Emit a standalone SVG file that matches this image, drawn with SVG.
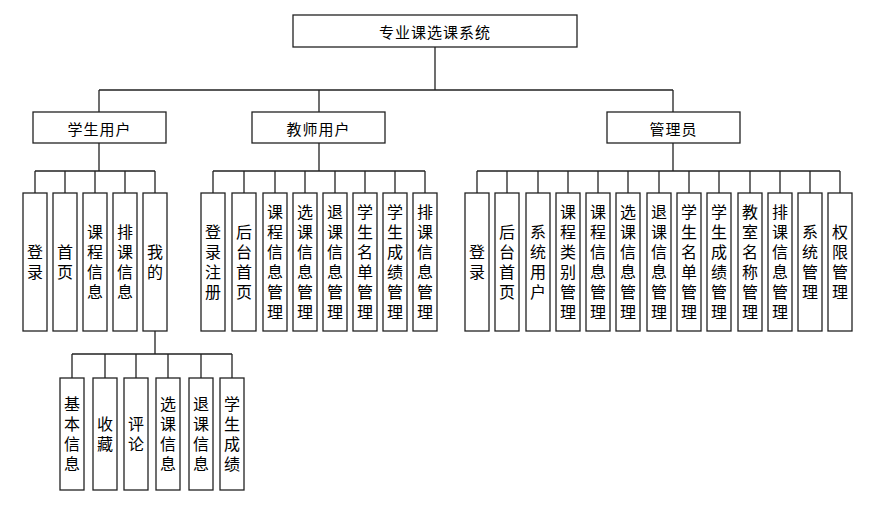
<svg xmlns="http://www.w3.org/2000/svg" width="880" height="507" viewBox="0 0 880 507">
<style>
rect{fill:#fff;stroke:#222;stroke-width:1.3}
rect.bg{stroke:none}
.c path{fill:none;stroke:#222;stroke-width:1.3}
text{font-family:"Noto Sans CJK SC","Noto Sans",sans-serif;fill:#000;text-anchor:middle;dominant-baseline:central}
.h{font-size:15px;letter-spacing:1px}
.v{font-size:16px;writing-mode:vertical-rl;letter-spacing:4px}
</style>
<rect class="bg" width="880" height="507"/>
<g class="c" id="connectors">
<path d="M435 47V90M99 90H673M99 90V112M319 90V112M673 90V112"/>
<path d="M99 143V171M35 171H155M35 171V193M65 171V193M95 171V193M125 171V193M155 171V193"/>
<path d="M319 143V171M213 171H425M213 171V193M244 171V193M275 171V193M305 171V193M335 171V193M365 171V193M395 171V193M425 171V193"/>
<path d="M673 143V171M477 171H840M477 171V193M507 171V193M538 171V193M568 171V193M598 171V193M628 171V193M659 171V193M689 171V193M719 171V193M750 171V193M780 171V193M810 171V193M840 171V193"/>
<path d="M155 331V354M72 354H232M72 354V378M105 354V378M136 354V378M168 354V378M201 354V378M232 354V378"/>
</g>
<g id="root"><rect x="293" y="15" width="284" height="32"/><text class="h" x="435" y="31">专业课选课系统</text></g>
<g id="student"><rect x="33" y="112" width="133" height="31"/><text class="h" x="99.5" y="128">学生用户</text></g>
<g id="teacher"><rect x="252" y="112" width="133" height="31"/><text class="h" x="318.5" y="128">教师用户</text></g>
<g id="admin"><rect x="607" y="112" width="133" height="31"/><text class="h" x="673.5" y="128">管理员</text></g>

<g id="s1"><rect x="23" y="193" width="24" height="138"/><text class="v" x="35" y="264">登录</text></g>
<g id="s2"><rect x="53" y="193" width="24" height="138"/><text class="v" x="65" y="264">首页</text></g>
<g id="s3"><rect x="83" y="193" width="24" height="138"/><text class="v" x="95" y="264">课程信息</text></g>
<g id="s4"><rect x="113" y="193" width="24" height="138"/><text class="v" x="125" y="264">排课信息</text></g>
<g id="s5"><rect x="143" y="193" width="24" height="138"/><text class="v" x="155" y="264">我的</text></g>

<g id="t1"><rect x="201" y="193" width="24" height="138"/><text class="v" x="213" y="264">登录注册</text></g>
<g id="t2"><rect x="232" y="193" width="24" height="138"/><text class="v" x="244" y="264">后台首页</text></g>
<g id="t3"><rect x="263" y="193" width="24" height="138"/><text class="v" x="275" y="264">课程信息管理</text></g>
<g id="t4"><rect x="293" y="193" width="24" height="138"/><text class="v" x="305" y="264">选课信息管理</text></g>
<g id="t5"><rect x="323" y="193" width="24" height="138"/><text class="v" x="335" y="264">退课信息管理</text></g>
<g id="t6"><rect x="353" y="193" width="24" height="138"/><text class="v" x="365" y="264">学生名单管理</text></g>
<g id="t7"><rect x="383" y="193" width="24" height="138"/><text class="v" x="395" y="264">学生成绩管理</text></g>
<g id="t8"><rect x="413" y="193" width="24" height="138"/><text class="v" x="425" y="264">排课信息管理</text></g>

<g id="a1"><rect x="465" y="193" width="24" height="138"/><text class="v" x="477" y="264">登录</text></g>
<g id="a2"><rect x="495" y="193" width="24" height="138"/><text class="v" x="507" y="264">后台首页</text></g>
<g id="a3"><rect x="526" y="193" width="24" height="138"/><text class="v" x="538" y="264">系统用户</text></g>
<g id="a4"><rect x="556" y="193" width="24" height="138"/><text class="v" x="568" y="264">课程类别管理</text></g>
<g id="a5"><rect x="586" y="193" width="24" height="138"/><text class="v" x="598" y="264">课程信息管理</text></g>
<g id="a6"><rect x="616" y="193" width="24" height="138"/><text class="v" x="628" y="264">选课信息管理</text></g>
<g id="a7"><rect x="647" y="193" width="24" height="138"/><text class="v" x="659" y="264">退课信息管理</text></g>
<g id="a8"><rect x="677" y="193" width="24" height="138"/><text class="v" x="689" y="264">学生名单管理</text></g>
<g id="a9"><rect x="707" y="193" width="24" height="138"/><text class="v" x="719" y="264">学生成绩管理</text></g>
<g id="a10"><rect x="738" y="193" width="24" height="138"/><text class="v" x="750" y="264">教室名称管理</text></g>
<g id="a11"><rect x="768" y="193" width="24" height="138"/><text class="v" x="780" y="264">排课信息管理</text></g>
<g id="a12"><rect x="798" y="193" width="24" height="138"/><text class="v" x="810" y="264">系统管理</text></g>
<g id="a13"><rect x="828" y="193" width="24" height="138"/><text class="v" x="840" y="264">权限管理</text></g>

<g id="m1"><rect x="60" y="378" width="24" height="112"/><text class="v" x="72" y="436">基本信息</text></g>
<g id="m2"><rect x="93" y="378" width="24" height="112"/><text class="v" x="105" y="436">收藏</text></g>
<g id="m3"><rect x="124" y="378" width="24" height="112"/><text class="v" x="136" y="436">评论</text></g>
<g id="m4"><rect x="156" y="378" width="24" height="112"/><text class="v" x="168" y="436">选课信息</text></g>
<g id="m5"><rect x="189" y="378" width="24" height="112"/><text class="v" x="201" y="436">退课信息</text></g>
<g id="m6"><rect x="220" y="378" width="24" height="112"/><text class="v" x="232" y="436">学生成绩</text></g>
</svg>
